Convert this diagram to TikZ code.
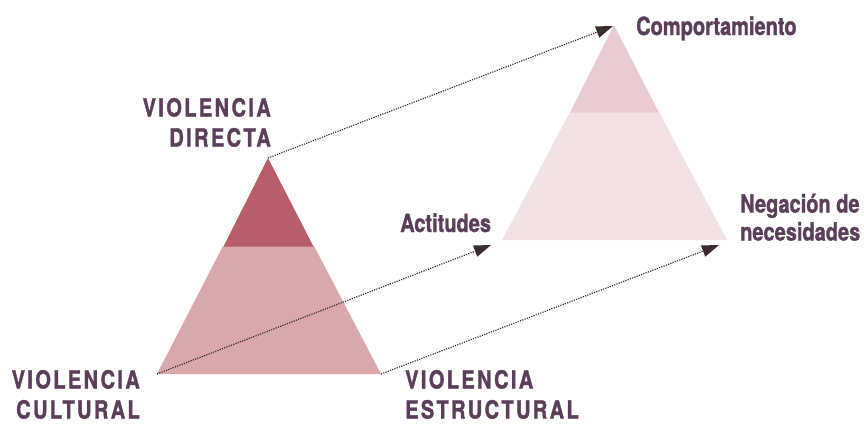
\documentclass[tikz,border=0pt]{standalone}
\usepackage{fontspec}
\setmainfont{TeX Gyre Heros}[FakeStretch=0.8,FakeBold=1.2]
\newfontfamily\capsfont{TeX Gyre Heros}[FakeStretch=0.8,FakeBold=1.4,LetterSpace=9.5]
\usetikzlibrary{arrows.meta}
\definecolor{txt}{HTML}{5B3F5A}
\definecolor{ltop}{HTML}{B85E6B}
\definecolor{lbot}{HTML}{D9A8AA}
\definecolor{rtop}{HTML}{E9CCD2}
\definecolor{rbot}{HTML}{F2E2E4}
\definecolor{arr}{HTML}{3A2C2A}
\definecolor{dots}{HTML}{2E2424}
\tikzset{
  lbl/.style={inner sep=0pt,text=txt,font=\bfseries\fontsize{25}{30}\selectfont},
  caplbl/.style={inner sep=0pt,text=txt,font=\capsfont\bfseries\fontsize{25}{30}\selectfont},
  dotline/.style={draw=dots,line width=1.15pt,dash pattern=on 1.15pt off 1.25pt,
    -{Triangle[length=17pt,width=12pt,fill=arr,color=arr,line width=0pt,sep=0pt]}}
}
\begin{document}
\begin{tikzpicture}[x=1pt,y=-1pt]
\useasboundingbox (0,0) rectangle (864,423);
% left triangle
\coordinate (LA) at (268,158);
\coordinate (LL) at (157,374);
\coordinate (LR) at (381,374);
\fill[lbot] (LL) -- (223,246) -- (314,246) -- (LR) -- cycle;
\fill[ltop] (LA) -- (223.5,246.5) -- (313.5,246.5) -- cycle;
% right triangle
\coordinate (RA) at (614,25);
\coordinate (RL) at (502,240);
\coordinate (RR) at (727,240);
\fill[rbot] (RL) -- (570,112) -- (659,112) -- (RR) -- cycle;
\fill[rtop] (RA) -- (570,112.5) -- (659,112.5) -- cycle;
% arrow targets
\coordinate (T1) at (613,26);
\coordinate (T2) at (491,245);
\coordinate (T3) at (719,245);
\draw[dotline] (LA) -- (T1);
\draw[dotline] (LL) -- (T2);
\draw[dotline] (LR) -- (T3);
% labels
\node[caplbl,align=right,anchor=south east] (directa) at (271,147) {VIOLENCIA\\DIRECTA};
\node[caplbl,align=right,anchor=south east] (cultural) at (140,419) {VIOLENCIA\\CULTURAL};
\node[caplbl,align=left,anchor=south west] (estructural) at (405,419) {VIOLENCIA\\ESTRUCTURAL};
\node[lbl,anchor=base west] (comp) at (636,35) {Comportamiento};
\node[lbl,anchor=base west] (act) at (400,232) {Actitudes};
\node[lbl,align=left,anchor=south west,font=\bfseries\fontsize{25}{28}\selectfont] (neg) at (740,241) {Negación de\\necesidades};
\end{tikzpicture}
\end{document}
